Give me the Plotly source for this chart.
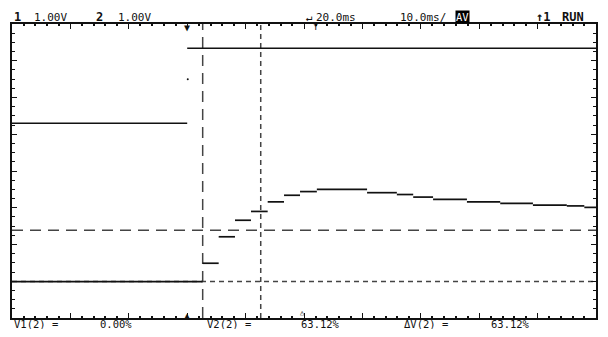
import plotly.graph_objects as go

# ---- data (time in ms relative to trigger, amplitude in divisions / volts @1V/div) ----
ch1_edges = [-30.0, 0.0, 70.0]
ch1_levels = [5.30, 7.34]
ch1_dot_t = [0.1]
ch1_dot_v = [6.50]

ch2_edges = [-30.0, 2.65, 5.39, 8.18, 10.92, 13.78, 16.58, 19.32, 22.2, 30.8,
             35.9, 38.7, 42.1, 47.9, 53.6, 59.2, 65.0, 68.0, 70.0]
ch2_levels = [0.99, 1.49, 2.21, 2.66, 2.90, 3.16, 3.34, 3.44, 3.50, 3.41,
              3.36, 3.29, 3.23, 3.16, 3.12, 3.07, 3.05, 3.01]

cursor_t = [2.65, 12.59]       # X cursors (ms)
cursor_v = [2.39, 0.99]        # Y cursors (V)
ground_levels = [4.27, 0.0]    # channel 1 / channel 2 reference markers
ground_names = ["1", "2"]

header_left = ["1", "1.00V", "2", "1.00V"]
footer = ["V1(2) =", "0.00%", "V2(2) =", "63.12%", "\u0394V(2) =", "63.12%"]

# page body has an 8px margin: the figure starts at (8, 8) in the window
OFF = 8
WIN_W, WIN_H = 608, 337
W, H = WIN_W - OFF, WIN_H - 2 * OFF
L, R, T, B = 12, 596, 24, 318       # plot frame in window pixels
X0, X1 = -30, 70
Y0, Y1 = 0, 8


def seg(edges, levels):
    xs, ys = [], []
    for i, lv in enumerate(levels):
        xs += [edges[i], edges[i + 1], None]
        ys += [lv, lv, None]
    return xs, ys


fig = go.Figure()
x1, y1 = seg(ch1_edges, ch1_levels)
fig.add_trace(go.Scatter(x=x1, y=y1, mode="lines", line=dict(color="#111", width=1.7),
                         hoverinfo="skip", showlegend=False))
fig.add_trace(go.Scatter(x=ch1_dot_t, y=ch1_dot_v, mode="markers",
                         marker=dict(color="#111", size=2), showlegend=False))
x2, y2 = seg(ch2_edges, ch2_levels)
fig.add_trace(go.Scatter(x=x2, y=y2, mode="lines", line=dict(color="#111", width=1.7),
                         hoverinfo="skip", showlegend=False))
# ground reference arrows at the right edge
fig.add_trace(go.Scatter(x=[X1 + 0.5] * len(ground_levels), y=ground_levels, mode="markers",
                         marker=dict(symbol="triangle-left", size=7, color="#111"),
                         cliponaxis=False, hoverinfo="skip", showlegend=False))

dash_long = "11px,7px"
dash_short = "5px,4px"
fig.add_shape(type="line", x0=cursor_t[0], x1=cursor_t[0], y0=Y0, y1=Y1,
              line=dict(color="#444", width=1.5, dash=dash_long), layer="below")
fig.add_shape(type="line", x0=cursor_t[1], x1=cursor_t[1], y0=Y0, y1=Y1,
              line=dict(color="#444", width=1.5, dash=dash_short), layer="below")
fig.add_shape(type="line", x0=X0, x1=X1, y0=cursor_v[0], y1=cursor_v[0],
              line=dict(color="#444", width=1.5, dash=dash_long), layer="below")
fig.add_shape(type="line", x0=X0, x1=X1, y0=cursor_v[1], y1=cursor_v[1],
              line=dict(color="#444", width=1.5, dash=dash_short), layer="below")


def px(x):
    return (x - L) / (R - L)


def py(y):
    return (B - y) / (B - T)


FONT = "DejaVu Sans Mono"


def txt(x, y, s, size=11, anchor="left", color="#111", **kw):
    fig.add_annotation(x=px(x), y=py(y), xref="paper", yref="paper", text=s,
                       showarrow=False, xanchor=anchor, yanchor="middle",
                       font=dict(family=FONT, size=size, color=color), **kw)


# header
HY = 17
txt(12, HY, "<b>" + header_left[0] + "</b>", size=12)
txt(32, HY, header_left[1])
txt(94, HY, "<b>" + header_left[2] + "</b>", size=12)
txt(116, HY, header_left[3])
txt(304, HY, "\u21b5", size=11)
txt(314, HY, "20.0ms")
txt(398, HY, "10.0ms/")
txt(455, HY, "AV", size=10.5, color="white", bgcolor="black", borderpad=0)
txt(534, HY, "<b>\u21911</b>", size=12)
txt(560, HY, "<b>RUN</b>", size=12)

# footer
FY = 323.5
txt(12, FY, footer[0], size=10.5)
txt(98, FY, footer[1], size=10.5)
txt(205, FY, footer[2], size=10.5)
txt(299, FY, footer[3], size=10.5)
txt(402, FY, footer[4], size=10.5)
txt(489, FY, footer[5], size=10.5)

# markers on frame
txt(187, 27, "\u25bc", size=10, anchor="center")
txt(316, 27, "Y", size=9, anchor="center")
txt(187, 315, "\u25b2", size=10, anchor="center")
txt(302, 313, "\u25b3", size=7, anchor="center")
for g, name in zip(ground_levels, ground_names):
    fig.add_annotation(x=1, y=g, xref="paper", yref="y", text=name, showarrow=False,
                       xanchor="left", yanchor="middle", xshift=5, yshift=-1,
                       font=dict(family=FONT, size=7, color="#111"))

fig.update_layout(
    width=W, height=H,
    margin=dict(l=L - OFF, r=WIN_W - R, t=T - OFF, b=WIN_H - OFF - B),
    paper_bgcolor="white", plot_bgcolor="white",
    showlegend=False,
    xaxis=dict(range=[X0, X1], showgrid=False, zeroline=False, showticklabels=False,
               showline=True, linecolor="#111", linewidth=1.5, mirror="ticks",
               ticks="inside", tick0=X0, dtick=10, ticklen=5, tickcolor="#111", tickwidth=1,
               minor=dict(ticks="inside", dtick=2, ticklen=2, tickcolor="#111", tickwidth=1.5)),
    yaxis=dict(range=[Y0, Y1], showgrid=False, zeroline=False, showticklabels=False,
               showline=True, linecolor="#111", linewidth=1.5, mirror="ticks",
               ticks="inside", dtick=1, ticklen=5, tickcolor="#111", tickwidth=1,
               minor=dict(ticks="inside", dtick=0.25, ticklen=3, tickcolor="#111", tickwidth=1)),
)

fig.write_html("out.html")
